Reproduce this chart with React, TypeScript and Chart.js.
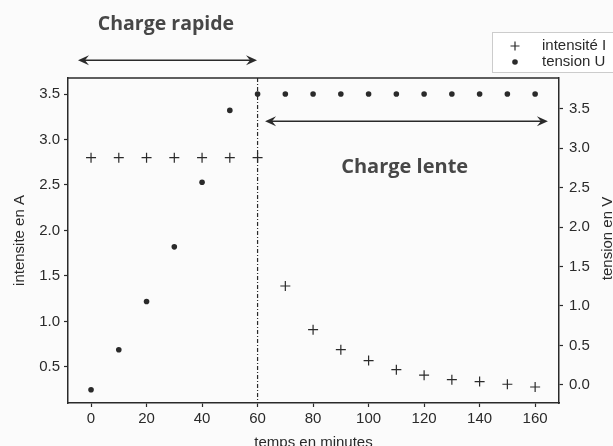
import { useEffect, useRef } from "react";
import { Chart, registerables } from "chart.js";

Chart.register(...registerables);

// ---- data ----
const timeMinutes = [0, 10, 20, 30, 40, 50, 60, 70, 80, 90, 100, 110, 120, 130, 140, 150, 160];
const intensityA = [2.8, 2.8, 2.8, 2.8, 2.8, 2.8, 2.8, 1.39, 0.91, 0.69, 0.57, 0.47, 0.41, 0.36, 0.34, 0.31, 0.28];
const tensionV = [0.25, 0.69, 1.22, 1.82, 2.53, 3.32, 3.5, 3.5, 3.5, 3.5, 3.5, 3.5, 3.5, 3.5, 3.5, 3.5, 3.5];

const xTickValues = [0, 20, 40, 60, 80, 100, 120, 140, 160];
const leftTickValues = [0.5, 1.0, 1.5, 2.0, 2.5, 3.0, 3.5];
const rightTickValues = [0.0, 0.5, 1.0, 1.5, 2.0, 2.5, 3.0, 3.5];

const xRange = [-8.3, 168.6];
const leftRange = [0.104, 3.676];
const rightRange = [-0.23, 3.89];

const separatorTime = 60;
const fastChargeSpan = [-4.7, 59.8];
const fastChargeArrowLevel = 3.87;
const fastChargeLabel = { text: "Charge rapide", x: 27, y: 4.27 };
const slowChargeSpan = [62.7, 164.6];
const slowChargeArrowLevel = 3.2;
const slowChargeLabel = { text: "Charge lente", x: 113, y: 2.7 };

const seriesNames = ["intensité I", "tension U"];
const axisTitles = { x: "temps en minutes", left: "intensite en A", right: "tension en V" };

const INK = "#2a2a2a";
const TICK_FONT = "'Liberation Sans', Arial, sans-serif";

function drawArrow(ctx: CanvasRenderingContext2D, x1: number, x2: number, y: number) {
  ctx.save();
  ctx.strokeStyle = INK;
  ctx.fillStyle = INK;
  ctx.lineWidth = 1.5;
  ctx.beginPath();
  ctx.moveTo(x1 + 4, y);
  ctx.lineTo(x2 - 4, y);
  ctx.stroke();
  const head = (tip: number, dir: number) => {
    ctx.beginPath();
    ctx.moveTo(tip, y);
    ctx.lineTo(tip - dir * 11, y - 5);
    ctx.lineTo(tip - dir * 7, y);
    ctx.lineTo(tip - dir * 11, y + 5);
    ctx.closePath();
    ctx.fill();
  };
  head(x1, -1);
  head(x2, 1);
  ctx.restore();
}

const decoPlugin = {
  id: "deco",
  beforeDraw(chart: any) {
    const { ctx, width, height } = chart;
    ctx.save();
    ctx.fillStyle = "#fbfbfb";
    ctx.fillRect(0, 0, width, height);
    ctx.restore();
  },
  beforeDatasetsDraw(chart: any) {
    const { ctx, chartArea, scales } = chart;
    const x = scales.x.getPixelForValue(separatorTime);
    ctx.save();
    ctx.strokeStyle = INK;
    ctx.lineWidth = 1.2;
    ctx.setLineDash([4, 2, 1, 2]);
    ctx.beginPath();
    ctx.moveTo(x, chartArea.top);
    ctx.lineTo(x, chartArea.bottom);
    ctx.stroke();
    ctx.restore();
  },
  afterDraw(chart: any) {
    const { ctx, chartArea, scales } = chart;
    const xs = scales.x;
    const ys = scales.y;

    // top frame line
    ctx.save();
    ctx.strokeStyle = INK;
    ctx.lineWidth = 1.5;
    ctx.beginPath();
    ctx.moveTo(chartArea.left, chartArea.top);
    ctx.lineTo(chartArea.right, chartArea.top);
    ctx.stroke();
    ctx.restore();

    // arrows
    drawArrow(ctx, xs.getPixelForValue(fastChargeSpan[0]), xs.getPixelForValue(fastChargeSpan[1]), ys.getPixelForValue(fastChargeArrowLevel));
    drawArrow(ctx, xs.getPixelForValue(slowChargeSpan[0]), xs.getPixelForValue(slowChargeSpan[1]), ys.getPixelForValue(slowChargeArrowLevel));

    // annotations
    ctx.save();
    ctx.fillStyle = "#474747";
    ctx.textAlign = "center";
    ctx.textBaseline = "middle";
    ctx.font = "bold 19.5px 'Open Sans', sans-serif";
    ctx.fillText(fastChargeLabel.text, xs.getPixelForValue(fastChargeLabel.x), ys.getPixelForValue(fastChargeLabel.y));
    ctx.font = "bold 20px 'Open Sans', sans-serif";
    ctx.fillText(slowChargeLabel.text, xs.getPixelForValue(slowChargeLabel.x), ys.getPixelForValue(slowChargeLabel.y));
    ctx.restore();

    // axis titles
    ctx.save();
    ctx.fillStyle = INK;
    ctx.font = `15px ${TICK_FONT}`;
    ctx.textAlign = "center";
    ctx.textBaseline = "middle";
    ctx.fillText(axisTitles.x, (chartArea.left + chartArea.right) / 2, chartArea.bottom + 40);
    ctx.save();
    ctx.translate(20, (chartArea.top + chartArea.bottom) / 2);
    ctx.rotate(-Math.PI / 2);
    ctx.fillText(axisTitles.left, 0, 0);
    ctx.restore();
    ctx.save();
    ctx.translate(chartArea.right + 49, (chartArea.top + chartArea.bottom) / 2 - 2);
    ctx.rotate(-Math.PI / 2);
    ctx.fillText(axisTitles.right, 0, 0);
    ctx.restore();
    ctx.restore();

    // legend
    const lx = chartArea.right - 67;
    const ly = chartArea.top - 46;
    ctx.save();
    ctx.fillStyle = "#ffffff";
    ctx.strokeStyle = "#cccccc";
    ctx.lineWidth = 1;
    ctx.fillRect(lx, ly, 200, 40);
    ctx.strokeRect(lx + 0.5, ly + 0.5, 200, 40);
    ctx.strokeStyle = INK;
    ctx.fillStyle = INK;
    const mx = lx + 23;
    const r1 = ly + 14;
    const r2 = ly + 30;
    ctx.lineWidth = 1.2;
    ctx.beginPath();
    ctx.moveTo(mx - 4.5, r1);
    ctx.lineTo(mx + 4.5, r1);
    ctx.moveTo(mx, r1 - 4.5);
    ctx.lineTo(mx, r1 + 4.5);
    ctx.stroke();
    ctx.beginPath();
    ctx.arc(mx, r2, 2.8, 0, Math.PI * 2);
    ctx.fill();
    ctx.font = `15px ${TICK_FONT}`;
    ctx.textAlign = "left";
    ctx.textBaseline = "middle";
    ctx.fillText(seriesNames[0], lx + 50, r1);
    ctx.fillText(seriesNames[1], lx + 50, r2);
    ctx.restore();
  },
};

export default function App() {
  const canvasRef = useRef<HTMLCanvasElement | null>(null);

  useEffect(() => {
    document.body.style.margin = "0";
    const canvas = canvasRef.current;
    if (!canvas) return;

    const tickFont = { family: TICK_FONT, size: 15 };
    const axisBase = {
      grid: { display: true, drawOnChartArea: false, tickLength: 4, color: INK, tickWidth: 1.2 },
      border: { display: true, color: INK, width: 1.5 },
    };

    const chart = new Chart(canvas, {
      type: "scatter",
      data: {
        datasets: [
          {
            label: seriesNames[0],
            data: timeMinutes.map((t, i) => ({ x: t, y: intensityA[i] })),
            pointStyle: "cross",
            pointRadius: 5,
            borderColor: INK,
            backgroundColor: INK,
            borderWidth: 1.2,
            yAxisID: "y",
          },
          {
            label: seriesNames[1],
            data: timeMinutes.map((t, i) => ({ x: t, y: tensionV[i] })),
            pointStyle: "circle",
            pointRadius: 2.8,
            borderWidth: 0,
            backgroundColor: INK,
            borderColor: INK,
            yAxisID: "y",
          },
        ],
      },
      options: {
        responsive: false,
        animation: false,
        layout: { padding: { top: 78, left: 0, right: 0, bottom: 0 } },
        plugins: { legend: { display: false }, tooltip: { enabled: false } },
        scales: {
          x: {
            type: "linear",
            position: "bottom",
            min: xRange[0],
            max: xRange[1],
            ...axisBase,
            afterBuildTicks: (s: any) => { s.ticks = xTickValues.map((v) => ({ value: v })); },
            afterFit: (s: any) => { s.height = 43; },
            ticks: { font: tickFont, color: INK, padding: 3, maxRotation: 0, callback: (v: any) => String(v) },
          },
          y: {
            type: "linear",
            position: "left",
            min: leftRange[0],
            max: leftRange[1],
            ...axisBase,
            afterBuildTicks: (s: any) => { s.ticks = leftTickValues.map((v) => ({ value: v })); },
            afterFit: (s: any) => { s.width = 68; },
            ticks: { font: tickFont, color: INK, padding: 4, callback: (v: any) => Number(v).toFixed(1) },
          },
          y2: {
            type: "linear",
            position: "right",
            min: rightRange[0],
            max: rightRange[1],
            ...axisBase,
            afterBuildTicks: (s: any) => { s.ticks = rightTickValues.map((v) => ({ value: v })); },
            afterFit: (s: any) => { s.width = 54; },
            ticks: { font: tickFont, color: INK, padding: 6, callback: (v: any) => Number(v).toFixed(1) },
          },
        },
      },
      plugins: [decoPlugin],
    } as any);

    return () => chart.destroy();
  }, []);

  return (
    <div style={{ width: 613, height: 446 }}>
      <canvas ref={canvasRef} width={613} height={446} />
    </div>
  );
}
